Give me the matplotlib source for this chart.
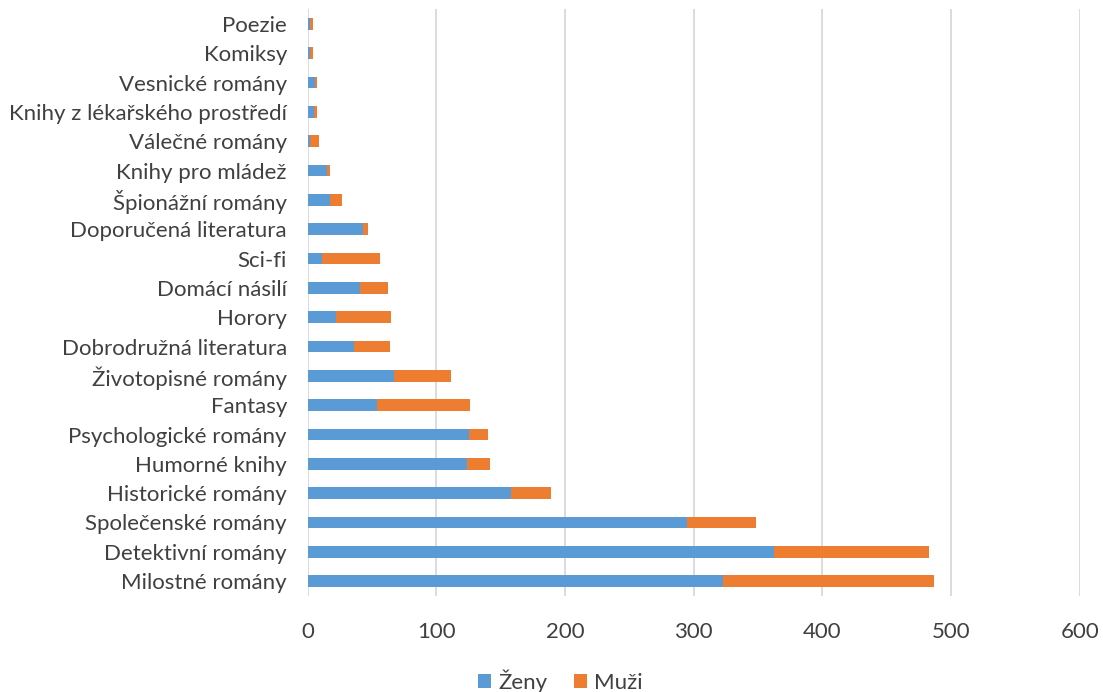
import matplotlib.pyplot as plt

plt.rcParams['font.family'] = ['Lato', 'DejaVu Sans']

# categories from top to bottom as shown in the chart
categories = ['Poezie', 'Komiksy', 'Vesnické romány', 'Knihy z lékařského prostředí',
              'Válečné romány', 'Knihy pro mládež', 'Špionážní romány',
              'Doporučená literatura', 'Sci-fi', 'Domácí násilí', 'Horory',
              'Dobrodružná literatura', 'Životopisné romány', 'Fantasy',
              'Psychologické romány', 'Humorné knihy', 'Historické romány',
              'Společenské romány', 'Detektivní romány', 'Milostné romány']
zeny = [2, 2, 6, 5, 2, 15, 17, 43, 11, 41, 22, 36, 67, 54, 125, 124, 158, 295, 362, 323]
muzi = [2, 2, 1, 2, 7, 2, 10, 4, 45, 21, 43, 28, 44, 72, 15, 18, 31, 53, 121, 164]

fig = plt.figure(figsize=(11.03, 6.92), dpi=100)
ax = fig.add_axes([0.279, 0.139, 0.700, 0.8476])

ypos = list(range(len(categories)))
ax.barh(ypos, zeny, height=0.4, color='#5B9BD5', label='Ženy', zorder=3)
ax.barh(ypos, muzi, left=zeny, height=0.4, color='#ED7D31', label='Muži', zorder=3)

ax.set_yticks(ypos)
ax.set_yticklabels(categories, fontsize=16, color='#404040')
ax.set_ylim(len(categories) - 0.5, -0.5)
ax.set_xlim(0, 600)
ax.set_xticks(range(0, 601, 100))
ax.tick_params(axis='x', labelsize=16, labelcolor='#404040', length=0, pad=19)
ax.tick_params(axis='y', length=0, pad=15)
ax.grid(axis='x', color='#D9D9D9', linewidth=1.3, zorder=0)
for s in ax.spines.values():
    s.set_visible(False)

fig.legend(loc='lower center', ncol=2, bbox_to_anchor=(0.508, -0.03), frameon=False,
           fontsize=16, handlelength=0.6, handleheight=0.6, handletextpad=0.3,
           columnspacing=1.2, labelcolor='#404040')

fig.savefig('out.png', dpi=100)
